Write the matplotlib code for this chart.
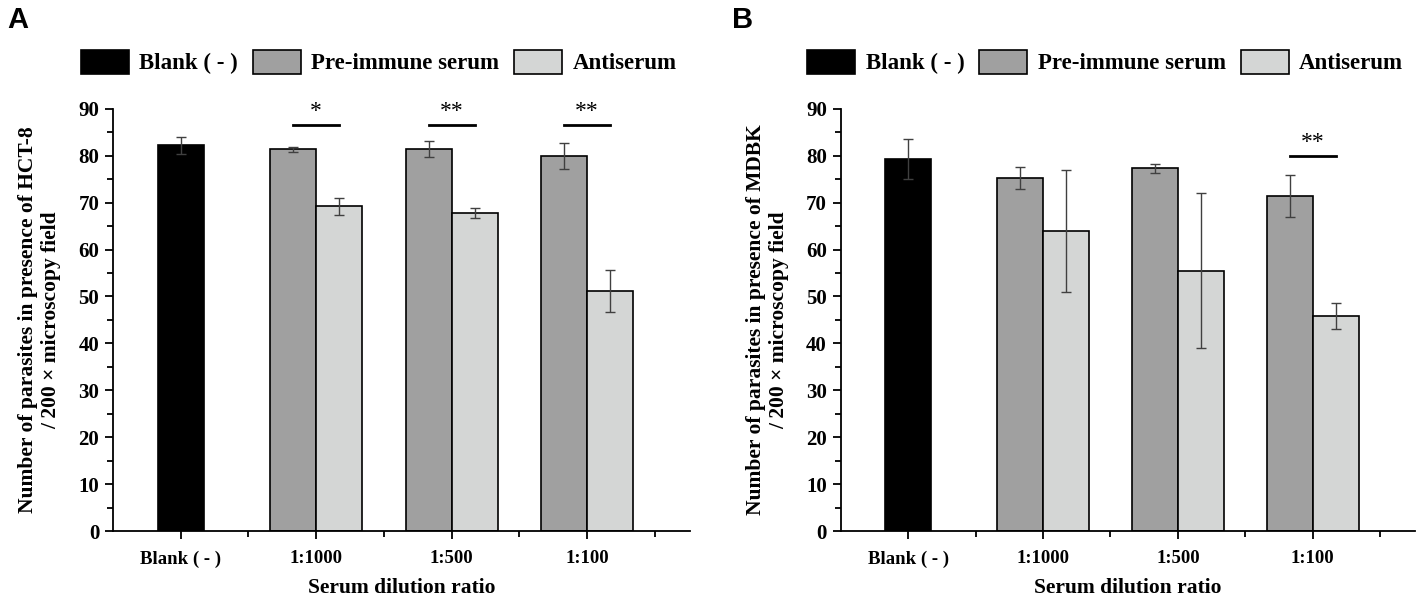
import matplotlib
matplotlib.use("Agg")
import matplotlib.pyplot as plt
import numpy as np
from matplotlib.patches import Patch
from matplotlib.ticker import MultipleLocator, FixedLocator

plt.rcParams['font.family'] = ['Liberation Serif', 'DejaVu Serif']
plt.rcParams['font.weight'] = 'bold'

categories = ["Blank ( - )", "1:1000", "1:500", "1:100"]
series = ["Blank ( - )", "Pre-immune serum", "Antiserum"]

# panel A (HCT-8)
a_blank, a_blank_err = 82.2, 1.8
a_pre = [81.4, 81.4, 79.9]
a_pre_err = [0.5, 1.7, 2.8]
a_anti = [69.2, 67.8, 51.2]
a_anti_err = [1.8, 1.1, 4.5]
a_sig = ["*", "**", "**"]
a_sig_level = 86.6

# panel B (MDBK)
b_blank, b_blank_err = 79.3, 4.3
b_pre = [75.3, 77.3, 71.5]
b_pre_err = [2.3, 1.0, 4.5]
b_anti = [63.9, 55.5, 45.8]
b_anti_err = [13.0, 16.5, 2.8]
b_sig = ["", "", "**"]
b_sig_level = 80.0

colors = ["#000000", "#a0a0a0", "#d4d6d5"]
W = 0.34


def panel(ax, blank, blank_err, pre, pre_err, anti, anti_err, sig, sig_level, cell):
    x = np.arange(1, len(categories))
    ekw = dict(ecolor="#404040", elinewidth=1.0, capsize=3.5, capthick=1.0)
    ax.bar(0, blank, W, color=colors[0], edgecolor="black", linewidth=1.2,
           yerr=blank_err, error_kw=ekw, zorder=2)
    ax.bar(x - W / 2, pre, W, color=colors[1], edgecolor="black", linewidth=1.2,
           yerr=pre_err, error_kw=ekw, zorder=2)
    ax.bar(x + W / 2, anti, W, color=colors[2], edgecolor="black", linewidth=1.2,
           yerr=anti_err, error_kw=ekw, zorder=2)
    for xi, s in zip(x, sig):
        if s:
            ax.plot([xi - W / 2, xi + W / 2], [sig_level, sig_level], color="black", lw=2)
            ax.text(xi, sig_level + 0.5, s, ha="center", va="bottom",
                    fontsize=17, fontweight="normal")

    ax.set_xlim(-0.5, 3.76)
    ax.set_ylim(0, 90)
    ax.spines[['top', 'right']].set_visible(False)
    ax.spines[['left', 'bottom']].set_linewidth(1.3)
    ax.set_xticks(np.arange(len(categories)))
    ax.set_xticklabels(categories, fontsize=13.5, fontweight="bold")
    ax.xaxis.set_minor_locator(FixedLocator([0.5, 1.5, 2.5, 3.5]))
    ax.yaxis.set_major_locator(MultipleLocator(10))
    ax.yaxis.set_minor_locator(MultipleLocator(5))
    ax.tick_params(axis="both", which="major", direction="out", length=6, width=1.3, pad=4)
    ax.tick_params(axis="both", which="minor", direction="out", length=4, width=1.3)
    ax.tick_params(axis="y", labelsize=15)
    for lab in ax.get_yticklabels():
        lab.set_fontweight("bold")
    ax.tick_params(axis="x", pad=8)
    ax.set_xlabel("Serum dilution ratio", fontsize=15.5, fontweight="bold", labelpad=7)
    ax.set_ylabel("Number of parasites in presence of %s\n/ 200 \u00d7 microscopy field" % cell,
                  fontsize=15.5, fontweight="bold", labelpad=12, linespacing=1.25)

    handles = [Patch(facecolor=c, edgecolor="black", linewidth=1.2) for c in colors]
    ax.legend(handles, series, loc="lower center", bbox_to_anchor=(0.46, 1.06), ncol=3,
              frameon=False, handlelength=2.1, handleheight=1.25,
              handletextpad=0.45, columnspacing=0.65, borderaxespad=0,
              prop=dict(family='Liberation Serif', weight='bold', size=16.5))


fig = plt.figure(figsize=(14.18, 5.98), dpi=100)
ax1 = fig.add_axes([0.0797, 0.112, 0.407, 0.706])
ax2 = fig.add_axes([0.593, 0.112, 0.405, 0.706])

panel(ax1, a_blank, a_blank_err, a_pre, a_pre_err, a_anti, a_anti_err, a_sig, a_sig_level, "HCT-8")
panel(ax2, b_blank, b_blank_err, b_pre, b_pre_err, b_anti, b_anti_err, b_sig, b_sig_level, "MDBK")

fig.text(0.005, 0.966, "A", fontsize=21, fontweight="bold", family="Liberation Sans", va="center")
fig.text(0.516, 0.966, "B", fontsize=21, fontweight="bold", family="Liberation Sans", va="center")

fig.savefig("out.png", dpi=100)
